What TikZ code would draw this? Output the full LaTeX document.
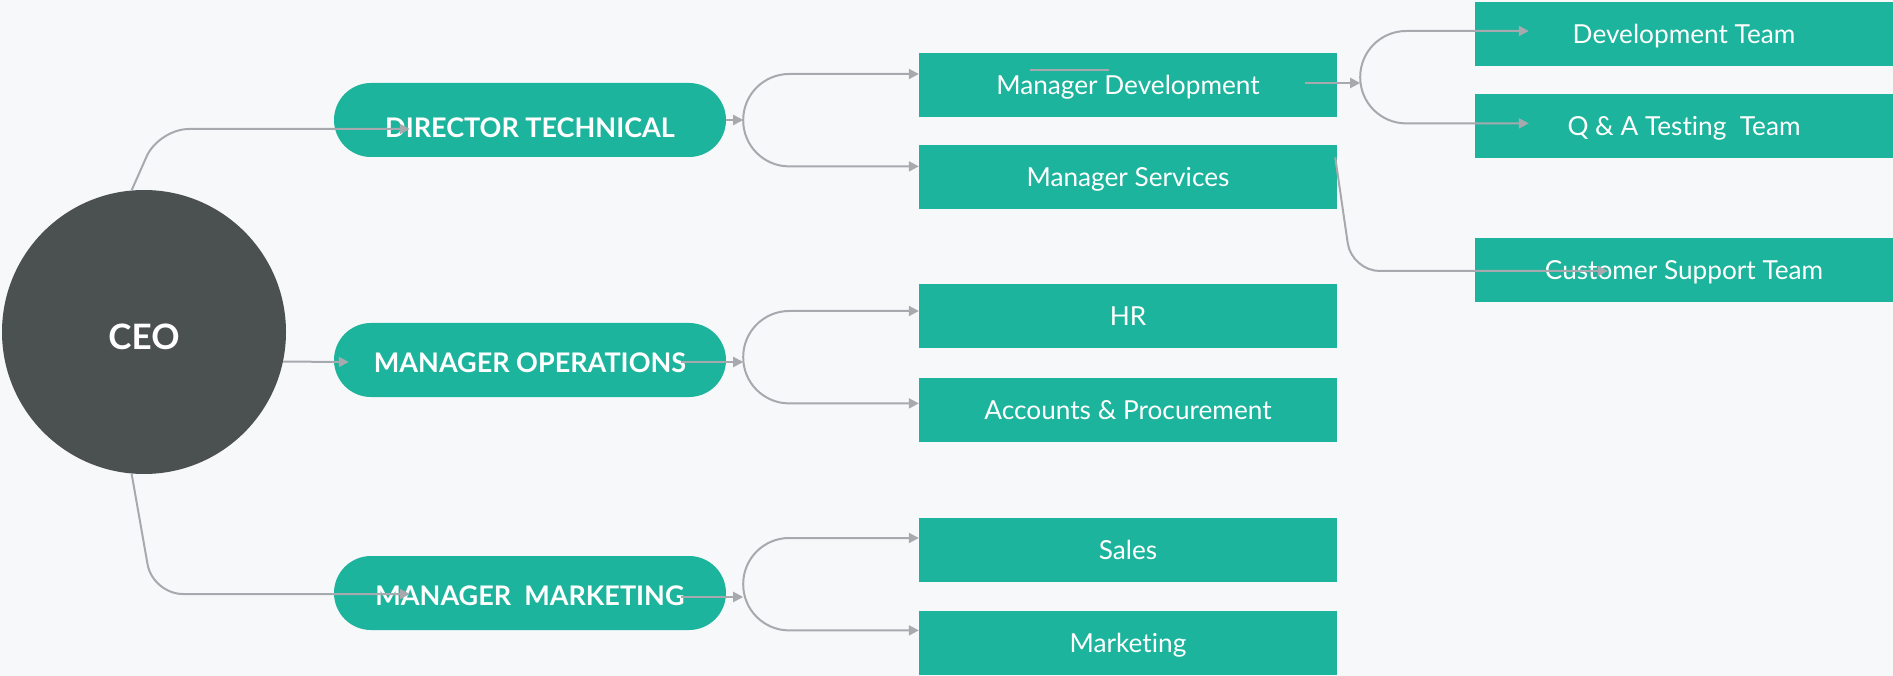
\documentclass[tikz,border=0pt]{standalone}
\usepackage{fontspec}
\setmainfont{Lato}[Ligatures={NoCommon}]
\usetikzlibrary{%
	positioning,
	calc,
	arrows.meta,
	shapes.misc
}
\definecolor{paper}{HTML}{F7F8FA}
\definecolor{teal1}{HTML}{1CB49C}
\definecolor{ceogrey}{HTML}{4B5151}
\definecolor{wiregrey}{HTML}{A6A9AD}

\begin{document}
\begin{tikzpicture}[x=1pt,y=-1pt,
		Head/.style={shape=circle,fill=ceogrey,minimum size=284pt,inner sep=0pt,text=white,text height=35pt,text depth=0pt,font=\bfseries\fontsize{35}{40}\selectfont},
		Pill/.style={shape=rounded rectangle,fill=teal1,minimum width=392pt,minimum height=74pt,inner sep=0pt,text=white,text height=25pt,text depth=0pt,font=\bfseries\fontsize{27}{30}\selectfont},
		Unit/.style={shape=rectangle,fill=teal1,minimum width=418pt,minimum height=64pt,inner sep=0pt,text=white,text height=19pt,text depth=0pt,font=\fontsize{26.2}{30}\selectfont},
		wire/.style={draw=wiregrey,line width=2pt},
		feed/.style={wire,-{Triangle[length=10pt,width=10pt]}},
		fork/.style={feed,rounded corners=46pt}
	]
	
	\fill[paper] (0,0) rectangle (1893,676);
	\useasboundingbox (0,0) rectangle (1893,676);
	
		%CEO and heads
		\node(ceo) [Head] at (144,332) {CEO};
		\node(dirtech) [Pill] at (530,120) {\raisebox{-5pt}[\height][\depth]{DIRECTOR TECHNICAL}};
		\node(manops) [Pill] at (530,360) {MANAGER OPERATIONS};
		\node(manmkt) [Pill] at (530,593) {MANAGER\ \ MARKETING};
		
		%departments
		\node(mdev) [Unit] at (1128,85) {Manager Development};
		\node(msrv) [Unit, below=28pt of mdev] {Manager Services};
		\node(hr) [Unit] at (1128,316) {HR};
		\node(acc) [Unit, below=30pt of hr] {Accounts \& Procurement};
		\node(sales) [Unit] at (1128,550) {Sales};
		\node(mkt) [Unit, below=29pt of sales] {Marketing};
		
		%teams
		\node(devteam) [Unit] at (1684,34) {Development Team};
		\node(qateam) [Unit, below=28pt of devteam] {Q \& A Testing\ \ Team};
		\node(cust) [Unit] at (1684,270) {Customer Support Team};
		
		\coordinate (j-dt) at ($(dirtech.east)+(17,0)$);
		\coordinate (j-mo) at ($(manops.east)+(17,-3)$);
		\coordinate (j-mm) at ($(manmkt.east)+(17,-9)$);
		\coordinate (j-md) at ($(mdev.east)+(23,-8)$);
		
		\draw [feed,rounded corners=30pt] (ceo.95) -- ($(dirtech.west)+(-175,9)$) -- ($(dirtech.west)+(76,9)$);
		\draw [feed] (ceo.-12) -- ($(manops.west)+(15,2)$);
		\draw [feed,rounded corners=30pt] (ceo.-95) -- ($(manmkt.west)+(-181,1)$) -- ($(manmkt.west)+(76,1)$);
		
		\draw [feed] (dirtech.east) -- (j-dt);
		\draw [feed] ($(manops.east)+(-45,2)$) coordinate (s-mo) -- (s-mo -| j-mo);
		\draw [feed] ($(manmkt.east)+(-45,4)$) coordinate (s-mm) -- (s-mm -| j-mm);
		\draw [feed] ($(mdev.east)+(-32,-2)$) coordinate (s-md) -- (s-md -| j-md);
		
		\draw [fork] (j-dt) |- ($(mdev.west)+(0,-11)$);
		\draw [fork] (j-dt) |- ($(msrv.west)+(0,-11)$);
		\draw [fork] (j-mo) |- ($(hr.west)+(0,-5)$);
		\draw [fork] (j-mo) |- ($(acc.west)+(0,-7)$);
		\draw [fork] (j-mm) |- ($(sales.west)+(0,-12)$);
		\draw [fork] (j-mm) |- ($(mkt.west)+(0,-13)$);
		\draw [fork] (j-md) |- ($(devteam.west)+(54,-3)$);
		\draw [fork] (j-md) |- ($(qateam.west)+(54,-3)$);
		
		\draw [feed,rounded corners=28pt] ($(msrv.east)+(-2,-20)$) -- ($(cust.west)+(-123,1)$) -- ($(cust.west)+(133,1)$);
		\draw [wire] ($(mdev.north)+(-98,17)$) -- ++(79,0);
		
\end{tikzpicture}
\end{document}
